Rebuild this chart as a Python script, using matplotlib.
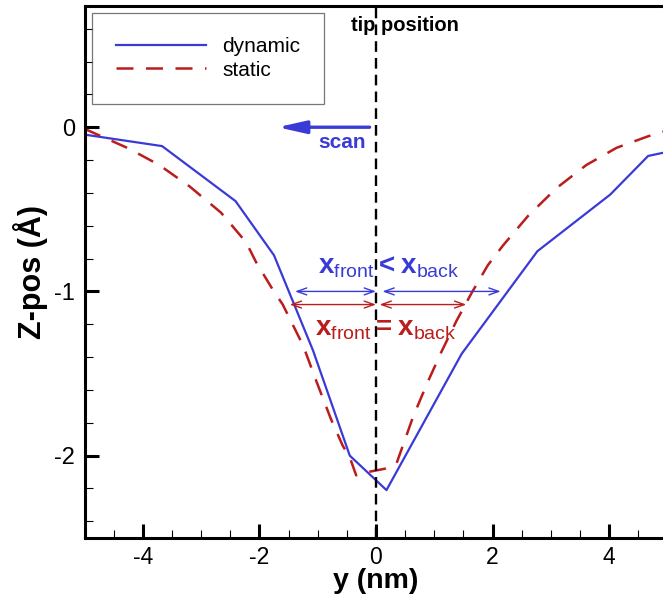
import matplotlib
matplotlib.use("Agg")
import matplotlib.pyplot as plt
from matplotlib.ticker import MultipleLocator

plt.rcParams['font.family'] = ['Liberation Sans', 'DejaVu Sans']
plt.rcParams['axes.unicode_minus'] = False
plt.rcParams['mathtext.fontset'] = 'custom'
plt.rcParams['mathtext.rm'] = 'Liberation Sans'
plt.rcParams['mathtext.bf'] = 'Liberation Sans:bold'

# dynamic (blue, solid)
dyn_y = [-5.0, -3.67, -2.41, -1.75, -1.08, -0.45, 0.18, 1.47, 2.77, 4.02, 4.67, 5.0]
dyn_z = [-0.045, -0.115, -0.45, -0.78, -1.36, -2.0, -2.21, -1.38, -0.755, -0.41, -0.175, -0.15]

# static (red, dashed)
sta_y = [-5.0, -4.24, -3.72, -3.2, -2.66, -2.23, -2.06, -1.77, -1.6, -1.25, -1.02,
         -0.77, -0.57, -0.45, -0.34, -0.14, 0.15, 0.35, 0.44, 0.64, 0.89, 1.12,
         1.38, 1.64, 1.92, 2.18, 2.61, 3.10, 3.61, 4.13, 4.67, 5.0]
sta_z = [-0.01, -0.13, -0.23, -0.36, -0.52, -0.70, -0.82, -0.99, -1.08, -1.33, -1.55,
         -1.78, -1.94, -2.01, -2.12, -2.10, -2.08, -2.05, -1.96, -1.76, -1.55, -1.37,
         -1.18, -1.01, -0.84, -0.72, -0.54, -0.37, -0.23, -0.125, -0.055, -0.02]

tip_pos = 0.0
scan_from, scan_to, scan_z = -0.11, -1.69, 0.0
dyn_front, dyn_back, dyn_level = (-1.39, 0.0), (0.11, 2.14), -1.0
sta_front, sta_back, sta_level = (-1.48, 0.0), (0.06, 1.55), -1.08

blue = '#3a3ad6'
red = '#bb1c1c'

fig = plt.figure(figsize=(6.63, 5.96), dpi=100)
ax = fig.add_axes([0.1276, 0.0978, 0.879, 0.8926])

ax.plot(dyn_y, dyn_z, color=blue, lw=1.6, label='dynamic')
ax.plot(sta_y, sta_z, color=red, lw=1.8, dashes=(6.8, 5.0), label='static')
ax.axvline(tip_pos, color='black', lw=1.7, dashes=(4.5, 2.6))

ax.set_xlim(-5, 5)
ax.set_ylim(-2.5, 0.74)
ax.xaxis.set_major_locator(MultipleLocator(2))
ax.xaxis.set_minor_locator(MultipleLocator(0.5))
ax.yaxis.set_major_locator(MultipleLocator(1))
ax.yaxis.set_minor_locator(MultipleLocator(0.2))
ax.tick_params(which='both', direction='in', top=False, right=False)
ax.tick_params(which='major', length=10, width=2.2, labelsize=17, pad=7)
ax.tick_params(axis='x', which='major', labelsize=16.5, pad=6)
ax.tick_params(which='minor', length=6, width=0.8)
for s in ax.spines.values():
    s.set_linewidth(2.2)

ax.set_xlabel('y (nm)', fontsize=20.5, fontweight='bold', labelpad=-1)
ax.set_ylabel('Z-pos (Å)', fontsize=22, fontweight='bold', labelpad=4)

leg = ax.legend(loc='upper left', bbox_to_anchor=(0.013, 0.986), fontsize=15,
                frameon=True, fancybox=False, handlelength=4.3, handletextpad=0.8,
                borderpad=1.15, labelspacing=0.22, borderaxespad=0)
leg.get_frame().set_edgecolor('#555555')
leg.get_frame().set_linewidth(0.9)

ax.text(0.5, 0.62, 'tip position', fontsize=14.5, fontweight='bold', ha='center', va='center')

ax.annotate('', xy=(scan_to, scan_z), xytext=(scan_from, scan_z),
            arrowprops=dict(arrowstyle='-|>,head_length=1.7,head_width=0.38', lw=2.4,
                            color=blue, mutation_scale=10, shrinkA=0, shrinkB=0))
ax.text(-0.59, -0.095, 'scan', fontsize=15, fontweight='bold', color=blue,
        ha='center', va='center')

dstyle = '<->,head_length=0.7,head_width=0.25'
for (a, b), lvl, c in [(dyn_front, dyn_level, blue), (dyn_back, dyn_level, blue),
                       (sta_front, sta_level, red), (sta_back, sta_level, red)]:
    ax.annotate('', xy=(a, lvl), xytext=(b, lvl),
                arrowprops=dict(arrowstyle=dstyle, lw=1.0, color=c, mutation_scale=10,
                                shrinkA=0, shrinkB=0))

ax.text(0.21, -0.85, r'$\mathbf{x}_{\mathrm{front}}\mathbf{<}\mathbf{x}_{\mathrm{back}}$',
        fontsize=20, color=blue, ha='center', va='center')
ax.text(0.17, -1.23, r'$\mathbf{x}_{\mathrm{front}}\mathbf{=}\mathbf{x}_{\mathrm{back}}$',
        fontsize=20, color=red, ha='center', va='center')

fig.savefig('out.png', dpi=100)
